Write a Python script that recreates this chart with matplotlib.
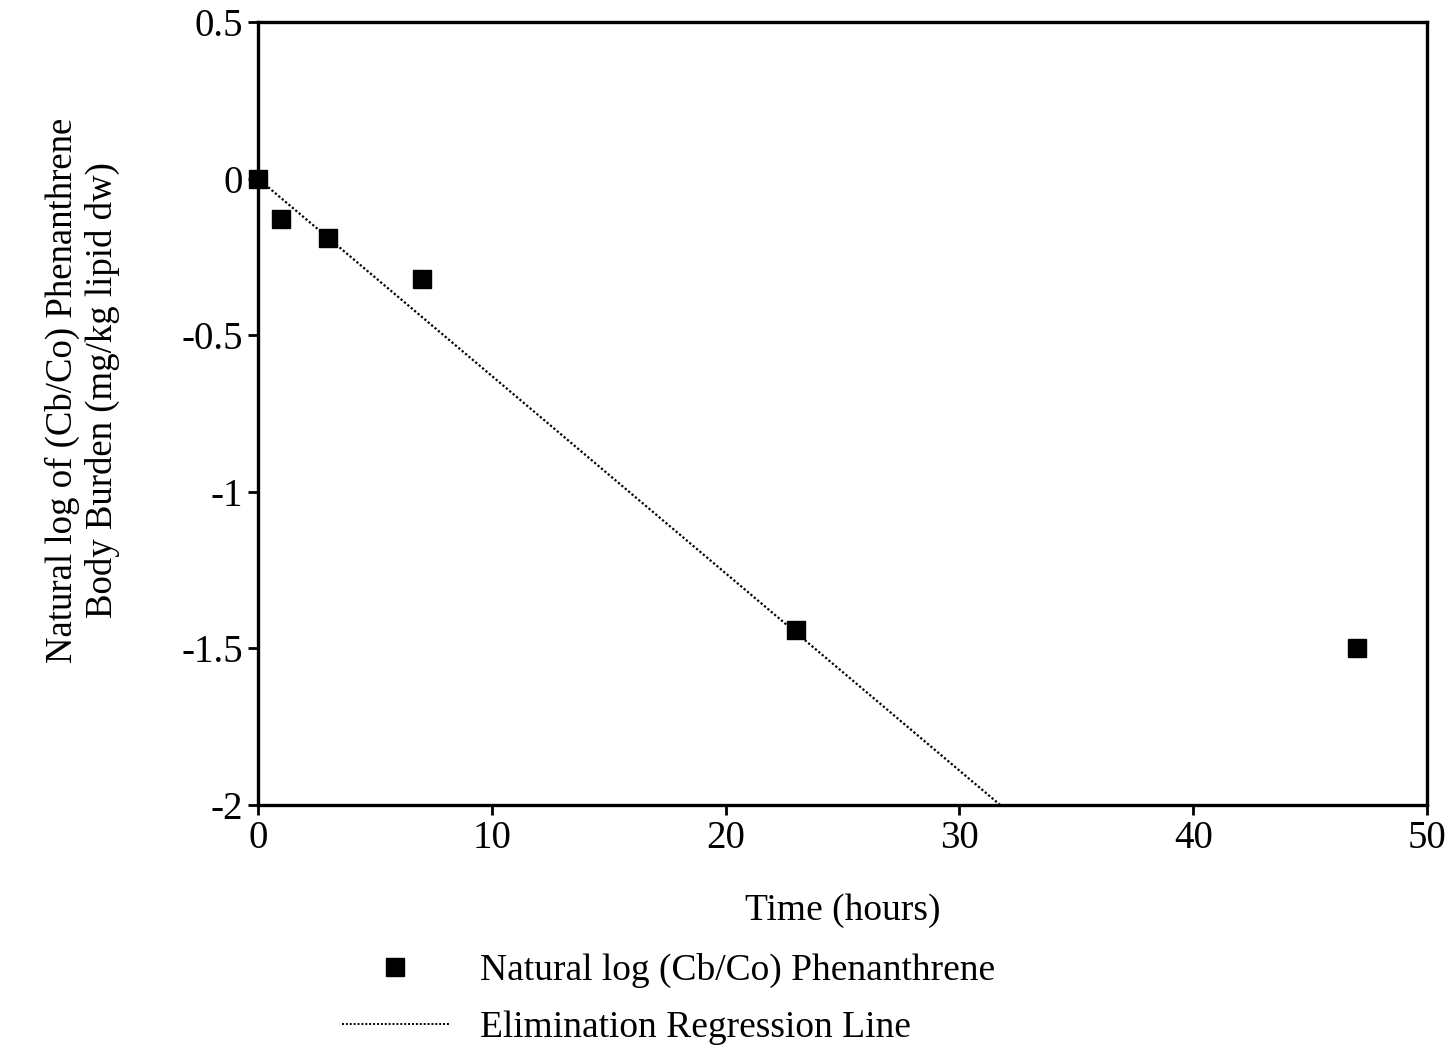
import numpy as np
import matplotlib.pyplot as plt
from matplotlib.lines import Line2D

plt.rcParams['font.family'] = ['Liberation Serif', 'DejaVu Serif']

# --- Data ---
time_h = [0, 1, 3, 7, 23, 47]
ln_ratio = [0.0, -0.13, -0.19, -0.32, -1.44, -1.50]
slope = -0.0630        # elimination regression slope
intercept = 0.0
fit_x = [0, 50]

xticks = [0, 10, 20, 30, 40, 50]
yticks = [0.5, 0, -0.5, -1, -1.5, -2]
ytick_labels = ['0.5', '0', '-0.5', '-1', '-1.5', '-2']

# --- Figure ---
fig = plt.figure(figsize=(14.52, 10.53), dpi=100)
ax = fig.add_axes([0.1777, 0.2355, 0.8051, 0.7436])

fit_y = [intercept + slope * x for x in fit_x]
ax.plot(fit_x, fit_y, color='black', linewidth=1.6, linestyle=(0, (1, 1)))
ax.plot(time_h, ln_ratio, linestyle='none', marker='s', markersize=13,
        color='black', clip_on=False, zorder=3)

ax.set_xlim(0, 50)
ax.set_ylim(-2, 0.5)
ax.set_xticks(xticks)
ax.set_yticks(yticks)
ax.set_yticklabels(ytick_labels)
ax.tick_params(direction='out', length=7, width=2, labelsize=28, pad=4)
for s in ax.spines.values():
    s.set_linewidth(2.4)

ax.set_xlabel('Time (hours)', fontsize=27, labelpad=26)
ax.set_ylabel('Natural log of (Cb/Co) Phenanthrene\nBody Burden (mg/kg lipid dw)',
              fontsize=26.5, linespacing=1.2)
ax.yaxis.set_label_coords(-0.118, 0.53)

# --- Legend below the axes ---
handles = [
    Line2D([], [], linestyle='none', marker='s', markersize=13, color='black'),
    Line2D([], [], color='black', linewidth=1.4, linestyle=(0, (1, 1))),
]
labels = ['Natural log (Cb/Co) Phenanthrene', 'Elimination Regression Line']
fig.legend(handles, labels, loc='upper left', bbox_to_anchor=(0.2255, 0.1093),
           frameon=False, fontsize=27, handlelength=2.83, handletextpad=0.85,
           labelspacing=0.59, borderaxespad=0)

fig.savefig('out.png', dpi=100)
